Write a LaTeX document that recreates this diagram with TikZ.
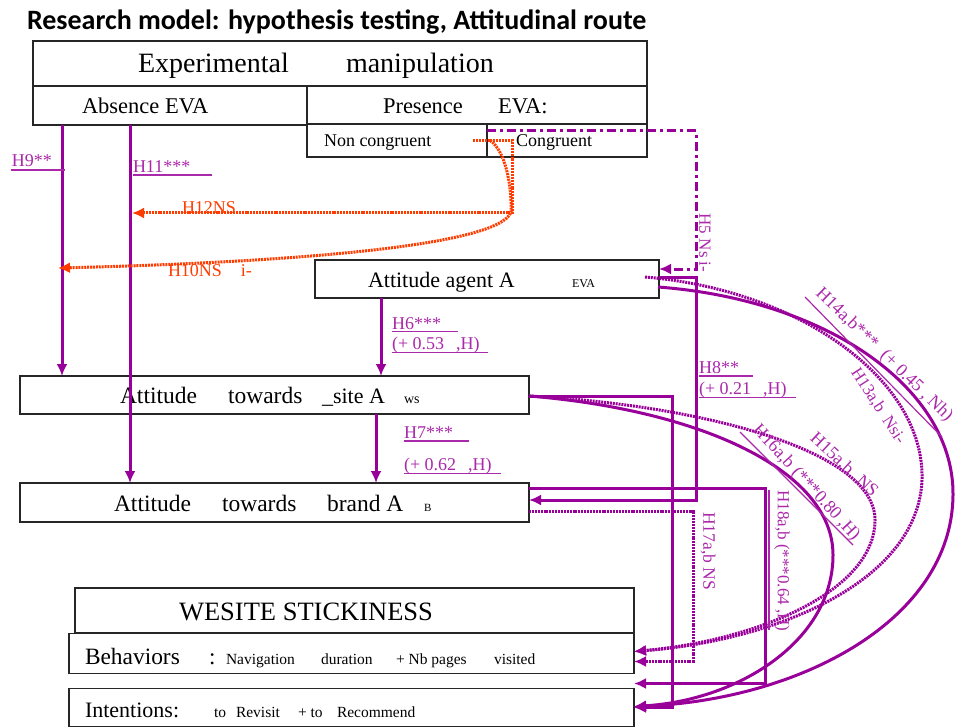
\documentclass[tikz,border=0pt]{standalone}
\usepackage{fontspec}
\setmainfont{Liberation Serif}
\newfontfamily\titlefont{Carlito}
\usetikzlibrary{arrows.meta,calc}
\definecolor{pur}{RGB}{153,0,153}
\definecolor{labpur}{RGB}{170,40,170}
\definecolor{redd}{RGB}{255,60,0}
\begin{document}
\begin{tikzpicture}[x=1pt,y=-1pt,
 box/.style={draw=black!85, line width=1.3pt, inner sep=0pt, outer sep=0pt},
 fs/.style={font=\fontsize{#1}{#1}\selectfont},
 tx/.style={inner sep=0pt, outer sep=0pt, anchor=base west},
 tip/.style={-{Latex[length=12pt,width=11pt]}},
 psol/.style={draw=pur, line width=3pt},
 pdot/.style={draw=pur, line width=3pt, dash pattern=on 2pt off 0.9pt},
 rdot/.style={draw=redd, line width=3pt, dash pattern=on 2pt off 0.9pt},
 pdd/.style={draw=pur, line width=3pt, dash pattern=on 9pt off 4pt on 3pt off 4pt},
 lab/.style={text=labpur, inner sep=0pt, outer sep=0pt, fs=18},
 rlab/.style={text=redd, inner sep=0pt, outer sep=0pt, fs=18, anchor=base west},
 ul/.style={draw=labpur, line width=1.2pt}
]
\fill[white] (0,0) rectangle (957,727);
\useasboundingbox (0,0) rectangle (957,727);

% title
\node[tx, font=\titlefont\bfseries\fontsize{28}{28}\selectfont] (title) at (27,30) {Research model: hypothesis testing, Attitudinal route};

% boxes
\node[box, minimum width=614pt, minimum height=45pt] (exp) at (340,63.5) {};
\node[box, minimum width=274pt, minimum height=39pt] (absence) at (170,105.5) {};
\node[box, minimum width=340pt, minimum height=38pt] (presence) at (477,105) {};
\node[box, minimum width=180pt, minimum height=33pt] (noncong) at (397,140.5) {};
\node[box, minimum width=160pt, minimum height=33pt] (cong) at (567,140.5) {};
\node[box, minimum width=344pt, minimum height=38pt] (agent) at (487,279) {};
\node[box, minimum width=509pt, minimum height=38pt] (site) at (274.5,395) {};
\node[box, minimum width=509pt, minimum height=39pt] (brand) at (274.5,502.5) {};
\node[box, minimum width=559pt, minimum height=45pt] (stick) at (354.5,610.5) {};
\node[box, minimum width=565pt, minimum height=40pt] (behav) at (351.5,653.5) {};
\node[box, minimum width=565pt, minimum height=38pt] (intent) at (351.5,707.5) {};

% box texts
\node[tx, fs=28] (t1) at (138,73) {Experimental};
\node[tx, fs=28] (t2) at (346,73) {manipulation};
\node[tx, fs=22.5] (t3) at (82,113.5) {Absence EVA};
\node[tx, fs=22.5] (t4) at (383,113.5) {Presence};
\node[tx, fs=22.5] (t5) at (498,113.5) {EVA:};
\node[tx, fs=18] (t6) at (324,147) {Non congruent};
\node[tx, fs=18] (t7) at (516,147) {Congruent};
\node[tx, fs=22] (t8) at (368,287) {Attitude agent A};
\node[tx, fs=12] (t9) at (572,287) {EVA};
\node[tx, fs=23.5] (t10) at (120,403) {Attitude};
\node[tx, fs=23.5] (t11) at (228,403) {towards};
\node[tx, fs=22] (t12) at (322,403) {\_site A};
\node[tx, fs=14] (t13) at (404,403) {ws};
\node[tx, fs=23.5] (t14) at (114,511) {Attitude};
\node[tx, fs=23.5] (t15) at (222,511) {towards};
\node[tx, fs=23.5] (t16) at (327,511) {brand A};
\node[tx, fs=11] (t17) at (424,511) {B};
\node[tx, fs=26.5] (t18) at (179,620) {WESITE STICKINESS};
\node[tx, fs=23.4] (t19) at (85,664) {Behaviors};
\node[tx, fs=23] (t20) at (209,664) {:};
\node[tx, fs=15.5] (t21) at (226,664) {Navigation};
\node[tx, fs=15.5] (t22) at (321,664) {duration};
\node[tx, fs=15.5] (t23) at (396,664) {+ Nb pages};
\node[tx, fs=15.5] (t24) at (494,664) {visited};
\node[tx, fs=22] (t25) at (85,717) {Intentions:};
\node[tx, fs=15.5] (t26) at (214,717) {to};
\node[tx, fs=15.5] (t27) at (236,717) {Revisit};
\node[tx, fs=15.5] (t28) at (298,717) {+ to};
\node[tx, fs=15.5] (t29) at (337,717) {Recommend};

% lane coordinates
\coordinate (xH9) at (62,0);
\coordinate (xH11) at (130,0);
\coordinate (xH6) at (381,0);
\coordinate (xH7) at (376,0);
\coordinate (xH5) at (696,0);
\coordinate (xS) at (672,0);
\coordinate (x17) at (693,0);
\coordinate (x18) at (765,0);
\coordinate (xR) at (512,0);

% H9, H11
\draw[psol, tip] (xH9 |- absence.south) -- (xH9 |- site.north);
\draw[psol, tip] (xH11 |- absence.south) -- (xH11 |- brand.north);
% H6, H7
\draw[psol, tip] (xH6 |- agent.south) -- (xH6 |- site.north);
\draw[psol, tip] (xH7 |- site.south) -- (xH7 |- brand.north);

% red connectors
\coordinate (r12s) at ($(noncong.east)+(-14,0)$);
\coordinate (r12e) at (132,213);
\coordinate (r10s) at ($(noncong.east)+(3,0)$);
\coordinate (r10e) at (58,268);
\draw[rdot, tip] (r12s) -- (r12s -| xR) -- (xR |- r12e) -- (r12e);
\draw[rdot, tip] (r10s) .. controls (505,150) and (512,185) .. (511,212) .. controls (500,245) and (300,262) .. (r10e);

% H5 dash-dot
\coordinate (h5s) at ($(cong.north west)+(0,7)$);
\coordinate (h5e) at ($(agent.north east)+(0,9)$);
\draw[pdd, tip] (h5s) -- (h5s -| xH5) -- (xH5 |- h5e) -- (h5e);

% H8
\coordinate (h8s) at ($(agent.north east)+(0,17)$);
\coordinate (h8e) at ($(brand.north east)+(0,17)$);
\draw[psol, tip] (h8s) -- (h8s -| xH5) -- (xH5 |- h8e) -- (h8e);

% site -> intentions (rectangular)
\coordinate (srs) at ($(site.north east)+(0,20)$);
\coordinate (sre) at ($(intent.north east)+(0,19)$);
\draw[psol, tip] (srs) -- (srs -| xS) -- (xS |- sre) -- (sre);

% H18
\coordinate (h18s) at ($(brand.north east)+(0,5)$);
\coordinate (h18e) at ($(behav.south east)+(0,10)$);
\draw[psol, tip] (h18s) -- (h18s -| x18) -- (x18 |- h18e) -- (h18e);

% H17
\coordinate (h17s) at ($(brand.north east)+(0,28)$);
\coordinate (h17e) at ($(behav.north east)+(0,28)$);
\draw[pdot, tip] (h17s) -- (h17s -| x17) -- (x17 |- h17e) -- (h17e);

% curves
\coordinate (h13s) at ($(agent.north east)+(-14,17)$);
\coordinate (h13e) at ($(behav.north east)+(0,18)$);
\coordinate (h14s) at ($(agent.north east)+(-1,27)$);
\coordinate (h14e) at ($(intent.north east)+(0,18)$);
\coordinate (sS) at ($(site.north east)+(0,20)$);
\draw[pdot, tip] (h13s) .. controls (800,290) and (925,380) .. (922,480) .. controls (918,580) and (780,640) .. (h13e);
\draw[psol, tip] (h14s) .. controls (830,300) and (954,390) .. (953,495) .. controls (952,620) and (800,700) .. (h14e);
\draw[pdot, tip] (sS) .. controls (700,405) and (875,450) .. (875,520) .. controls (875,590) and (760,640) .. (h13e);
\draw[psol, tip] (sS) .. controls (700,410) and (833,470) .. (833,555) .. controls (833,640) and (740,700) .. (h14e);

% purple labels
\node[lab, anchor=base west] (l9) at (12,167) {H9**};
\draw[ul] (11,170) -- (65,170);
\node[lab, anchor=base west] (l11) at (133,173) {H11***};
\draw[ul] (133,175) -- (212,175);
\node[lab, anchor=base west] (l6a) at (392,329) {H6***};
\draw[ul] (392,331.5) -- (458,331.5);
\node[lab, anchor=base west] (l6b) at (392,349) {(+ 0.53\hspace{12pt},H)};
\draw[ul] (392,352.5) -- (488,352.5);
\node[lab, anchor=base west] (l7a) at (404,438.5) {H7***};
\draw[ul] (404,441) -- (469,441);
\node[lab, anchor=base west] (l7b) at (404,470) {(+ 0.62\hspace{12pt},H)};
\draw[ul] (404,473.5) -- (501,473.5);
\node[lab, anchor=base west] (l8a) at (699,373) {H8**};
\draw[ul] (699,376) -- (753,376);
\node[lab, anchor=base west] (l8b) at (699,394) {(+ 0.21\hspace{12pt},H)};
\draw[ul] (699,397.5) -- (796,397.5);
\node[lab, fs=17, rotate=-90] (l5) at (705,243) {H5 Ns i-};
\node[lab, fs=17.5, rotate=-90] (l17) at (708,551) {H17a,b NS};
\node[lab, fs=17, rotate=-90] (l18) at (782,561) {H18a,b (***0.64 ,H)};
\draw[ul] (769,490) -- (769,630);
\node[lab, rotate=-44] (l14) at (884,355) {H14a,b***\hspace{10pt}(+ 0.45 , Nh)};
\draw[ul] (805,297) -- (942,437);
\node[lab, fs=17, rotate=-57] (l13) at (878,406) {H13a,b\hspace{8pt}Nsi-};
\node[lab, rotate=-43] (l15) at (844,465) {H15a,b\hspace{10pt}NS};
\node[lab, rotate=-47.5] (l16) at (806,483) {H16a,b\hspace{5pt}(***0.80 ,H)};
\draw[ul] (740,432) -- (853,545);

% red labels
\node[rlab] (l12) at (182,214) {H12NS};
\node[rlab] (l10) at (168,276) {H10NS\hspace{19pt}i-};
\end{tikzpicture}
\end{document}
